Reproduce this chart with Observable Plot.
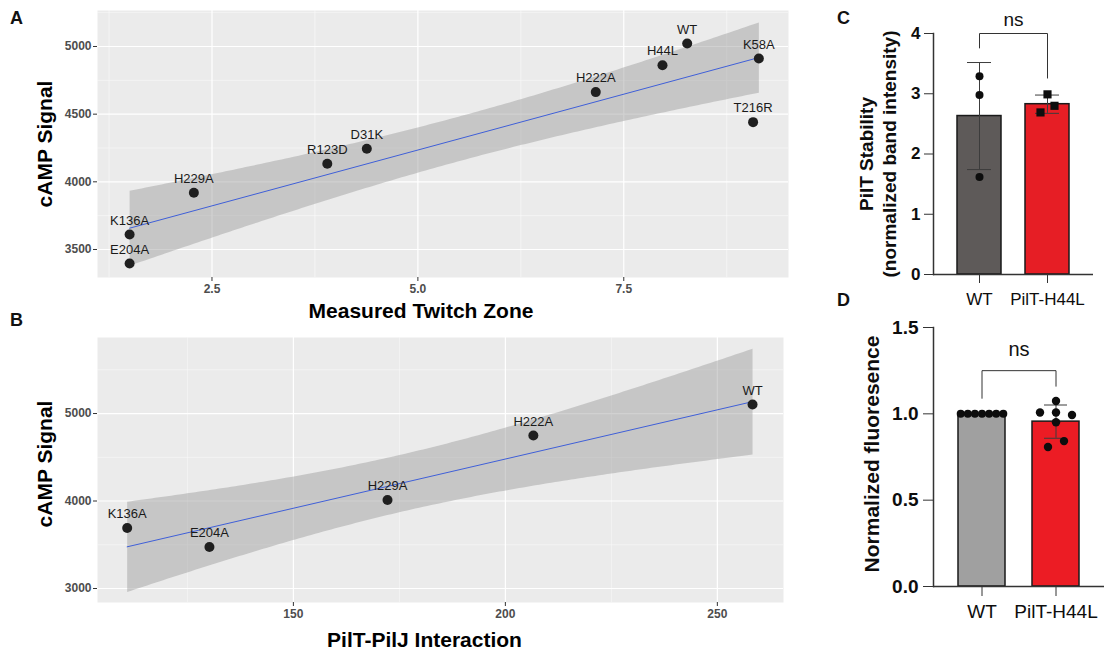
<!DOCTYPE html>
<html>
<head>
<meta charset="utf-8">
<script src="https://cdn.jsdelivr.net/npm/d3@7"></script>
<script src="https://cdn.jsdelivr.net/npm/@observablehq/plot@0.6"></script>
<style>
  html, body { margin: 0; padding: 0; background: #ffffff; }
  #fig { position: relative; width: 1108px; height: 652px; overflow: hidden; font-family: "Liberation Sans", Arial, sans-serif; }
  .panel { position: absolute; }
  .letter { position: absolute; font-weight: bold; font-size: 18px; line-height: 1; color: #111; }
</style>
</head>
<body>
<div id="fig">
  <div class="panel" id="pA" style="left:0px;top:0px;"></div>
  <div class="panel" id="pB" style="left:0px;top:320px;"></div>
  <div class="panel" id="pC" style="left:800px;top:0px;"></div>
  <div class="panel" id="pD" style="left:800px;top:320px;"></div>
  <div class="letter" style="left:10px;top:9px;">A</div>
  <div class="letter" style="left:10px;top:311px;">B</div>
  <div class="letter" style="left:837px;top:9px;">C</div>
  <div class="letter" style="left:837px;top:291px;">D</div>
</div>
<script>
// ---------------- DATA ----------------
// Panel A: cAMP signal vs measured twitch zone
const mutantsA = ["WT", "H44L", "K58A", "H222A", "T216R", "D31K", "R123D", "H229A", "K136A", "E204A"];
const twitchA  = [8.27, 7.97, 9.14, 7.16, 9.07, 4.38, 3.90, 2.28, 1.50, 1.50];
const campA    = [5022, 4862, 4911, 4663, 4441, 4244, 4133, 3919, 3611, 3397];
const xTicksA = [2.5, 5.0, 7.5];
const xMinorA = [1.25, 3.75, 6.25, 8.75];
const yTicksA = [3500, 4000, 4500, 5000];
const yMinorA = [3750, 4250, 4750, 5250];

// Panel B: cAMP signal vs PilT-PilJ interaction
const mutantsB     = ["WT", "H222A", "H229A", "E204A", "K136A"];
const interactionB = [258.3, 206.6, 172.2, 130.2, 110.8];
const campB        = [5103, 4749, 4011, 3474, 3691];
const xTicksB = [150, 200, 250];
const xMinorB = [125, 175, 225];
const yTicksB = [3000, 4000, 5000];
const yMinorB = [3500, 4500, 5500];

// Panel C: PilT stability replicates
const groups = ["WT", "PilT-H44L"];
const stabilityWT   = [3.29, 2.98, 1.62];
const stabilityH44L = [2.99, 2.80, 2.69];
const yTicksC = [0, 1, 2, 3, 4];
const bracketC = [3.76, 4.0, 3.26]; // left leg end, bar level, right leg end

// Panel D: normalized fluorescence replicates
const fluorWT   = [1, 1, 1, 1, 1, 1, 1];
const fluorH44L = [1.008, 1.074, 1.008, 0.993, 0.951, 0.808, 0.842];
const yTicksD = [0, 0.5, 1.0, 1.5];
const bracketD = [1.09, 1.25, 1.16];

// ---------------- HELPERS ----------------
const FONT = "'Liberation Sans', Arial, sans-serif";

function ggPanel(o) {
  const data = o.labels.map((m, i) => ({m, x: o.xs[i], y: o.ys[i]}));
  return Plot.plot({
    width: o.width, height: o.height,
    marginLeft: o.ml, marginRight: o.mr, marginTop: o.mt, marginBottom: o.mb,
    style: {fontFamily: FONT, background: "transparent", overflow: "visible"},
    x: {domain: o.xDomain},
    y: {domain: o.yDomain},
    marks: [
      Plot.frame({fill: "#ebebeb", stroke: "none"}),
      Plot.ruleX(o.xMinor, {stroke: "#fafafa", strokeWidth: 0.6}),
      Plot.ruleY(o.yMinor, {stroke: "#fafafa", strokeWidth: 0.6}),
      Plot.ruleX(o.xTicks, {stroke: "#ffffff", strokeWidth: 1.2}),
      Plot.ruleY(o.yTicks, {stroke: "#ffffff", strokeWidth: 1.2}),
      Plot.linearRegressionY(data, {x: "x", y: "y", stroke: "#3f5fd8", strokeWidth: 1, fill: "#999999", fillOpacity: 0.45}),
      Plot.dot(data, {x: "x", y: "y", r: 5, fill: "#1f1f1f", stroke: "none"}),
      Plot.text(data, {x: "x", y: "y", text: "m", dy: -14, fontSize: 13, fill: "#1a1a1a"}),
      Plot.axisX({ticks: o.xTicks, tickSize: 4, tickPadding: 3, stroke: "#333", fill: "#4d4d4d",
                  fontSize: 12, fontWeight: "bold", tickFormat: o.xFmt, label: null}),
      Plot.axisY({ticks: o.yTicks, tickSize: 4, tickPadding: 2, stroke: "#333", fill: "#4d4d4d",
                  fontSize: 12, fontWeight: "bold", tickFormat: d => String(d), label: null}),
      Plot.text([o.xLabel], {frameAnchor: "bottom", dy: o.xLabelDy, dx: o.xLabelDx, fontSize: 21,
                  fontWeight: "bold", fill: "#000", lineAnchor: "middle", textAnchor: "middle"}),
      Plot.text([o.yLabel], {frameAnchor: "left", dx: -52, dy: o.yLabelDy, rotate: -90, fontSize: 21,
                  fontWeight: "bold", fill: "#000", lineAnchor: "middle", textAnchor: "middle"})
    ]
  });
}

function barPanel(o) {
  const stats = groups.map((g, i) => {
    const v = o.values[i];
    return {g, mean: d3.mean(v), sd: d3.deviation(v)};
  });
  const bracketPts = [
    {g: groups[0], y: o.bracket[0]},
    {g: groups[0], y: o.bracket[1]},
    {g: groups[1], y: o.bracket[1]},
    {g: groups[1], y: o.bracket[2]}
  ];
  const pointMarks = [];
  o.values.forEach((vals, gi) => {
    vals.forEach((v, i) => {
      pointMarks.push(Plot.dot([v], {x: () => groups[gi], y: d => d, r: o.r[gi], symbol: o.symbols[gi],
        fill: "#0d0d0d", stroke: "none", dx: o.jitter[gi][i]}));
    });
  });
  return Plot.plot({
    width: o.width, height: o.height,
    marginLeft: o.ml, marginRight: o.mr, marginTop: o.mt, marginBottom: o.mb,
    style: {fontFamily: FONT, background: "transparent", overflow: "visible"},
    x: {type: "band", domain: groups, paddingInner: o.pi, paddingOuter: o.po},
    y: {domain: o.yDomain},
    color: {domain: groups, range: o.colors},
    marks: [
      Plot.barY(stats, {x: "g", y: "mean", fill: "g", stroke: "#1a1a1a", strokeWidth: 1.5}),
      Plot.ruleX(stats, {x: "g", y1: d => d.mean - d.sd, y2: d => d.mean + d.sd, stroke: "#3c3c3c", strokeWidth: 1}),
      Plot.tickY(stats, {x: "g", y: d => d.mean + d.sd, insetLeft: o.capInset, insetRight: o.capInset, stroke: "#3c3c3c", strokeWidth: 1}),
      Plot.tickY(stats, {x: "g", y: d => d.mean - d.sd, insetLeft: o.capInset, insetRight: o.capInset, stroke: "#3c3c3c", strokeWidth: 1}),
      ...pointMarks,
      Plot.line(bracketPts, {x: "g", y: "y", stroke: "#333", strokeWidth: 1}),
      Plot.text(["ns"], {frameAnchor: "top", dy: o.nsDy, fontSize: o.nsSize, fill: "#111", lineAnchor: "middle", textAnchor: "middle"}),
      Plot.ruleY([0], {stroke: "#333", strokeWidth: 1.5}),
      Plot.frame({anchor: "left", stroke: "#333", strokeWidth: 1.5}),
      Plot.axisY({ticks: o.yTicks, tickSize: o.yTickSize, tickPadding: o.yTickPad, stroke: "#333", fill: "#0d0d0d",
                  fontSize: o.yTickFont, fontWeight: "bold", tickFormat: o.yFmt, label: null}),
      Plot.axisX({tickSize: o.xTickSize, tickPadding: o.xTickPad, stroke: "#333", fill: "#0d0d0d",
                  fontSize: o.xTickFont, label: null}),
      Plot.text([o.yLabel], {frameAnchor: "left", dx: o.yLabelDx, dy: o.yLabelDy, rotate: -90, fontSize: o.yLabelFont,
                  fontWeight: "bold", fill: "#0d0d0d", lineAnchor: "middle", textAnchor: "middle", lineHeight: 1.2})
    ]
  });
}

// ---------------- PANELS ----------------
document.getElementById("pA").append(ggPanel({
  labels: mutantsA, xs: twitchA, ys: campA,
  width: 800, height: 320, ml: 97, mr: 12, mt: 10, mb: 43,
  xDomain: [1.11, 9.5], yDomain: [3293, 5266],
  xTicks: xTicksA, xMinor: xMinorA, yTicks: yTicksA, yMinor: yMinorA,
  xFmt: d => d.toFixed(1),
  xLabel: "Measured Twitch Zone", xLabelDy: 34, xLabelDx: -22,
  yLabel: "cAMP Signal", yLabelDy: 0
}));

document.getElementById("pB").append(ggPanel({
  labels: mutantsB, xs: interactionB, ys: campB,
  width: 800, height: 332, ml: 97, mr: 17, mt: 17, mb: 50,
  xDomain: [103.8, 265.6], yDomain: [2840, 5869],
  xTicks: xTicksB, xMinor: xMinorB, yTicks: yTicksB, yMinor: yMinorB,
  xFmt: d => String(d),
  xLabel: "PilT-PilJ Interaction", xLabelDy: 38, xLabelDx: -16,
  yLabel: "cAMP Signal", yLabelDy: -6
}));

document.getElementById("pC").append(barPanel({
  values: [stabilityWT, stabilityH44L],
  jitter: [[0, 0, 0], [0, 7, -7]],
  symbols: ["circle", "square"], r: [4, 4.6],
  colors: ["#5e5a59", "#e61e25"],
  width: 308, height: 320, ml: 133, mr: 15, mt: 33, mb: 46,
  pi: 0.35, po: 0.35, yDomain: [0, 4], yTicks: yTicksC, yFmt: d => String(d),
  bracket: bracketC, nsDy: -14, nsSize: 19, capInset: 10,
  yTickSize: 9, yTickPad: 4, yTickFont: 17,
  xTickSize: 9, xTickPad: 9, xTickFont: 17,
  yLabel: "PilT Stability\n(normalized band intensity)", yLabelDx: -56.5, yLabelDy: 0, yLabelFont: 19
}));

document.getElementById("pD").append(barPanel({
  values: [fluorWT, fluorH44L],
  jitter: [[-21.3, -14.2, -7.1, 0, 7.1, 14.2, 21.3], [-16, 0, 0, 16, 0, -8, 8]],
  symbols: ["circle", "circle"], r: [4, 4.2],
  colors: ["#a0a0a0", "#ec1c24"],
  width: 308, height: 332, ml: 133, mr: 4, mt: 7, mb: 66,
  pi: 0.37, po: 0.33, yDomain: [0, 1.5], yTicks: yTicksD, yFmt: d => d.toFixed(1),
  bracket: bracketD, nsDy: 22, nsSize: 20, capInset: 12,
  yTickSize: 10, yTickPad: 5, yTickFont: 19,
  xTickSize: 10, xTickPad: 8, xTickFont: 19,
  yLabel: "Normalized fluoresence", yLabelDx: -63, yLabelDy: -3, yLabelFont: 21
}));
</script>
</body>
</html>
